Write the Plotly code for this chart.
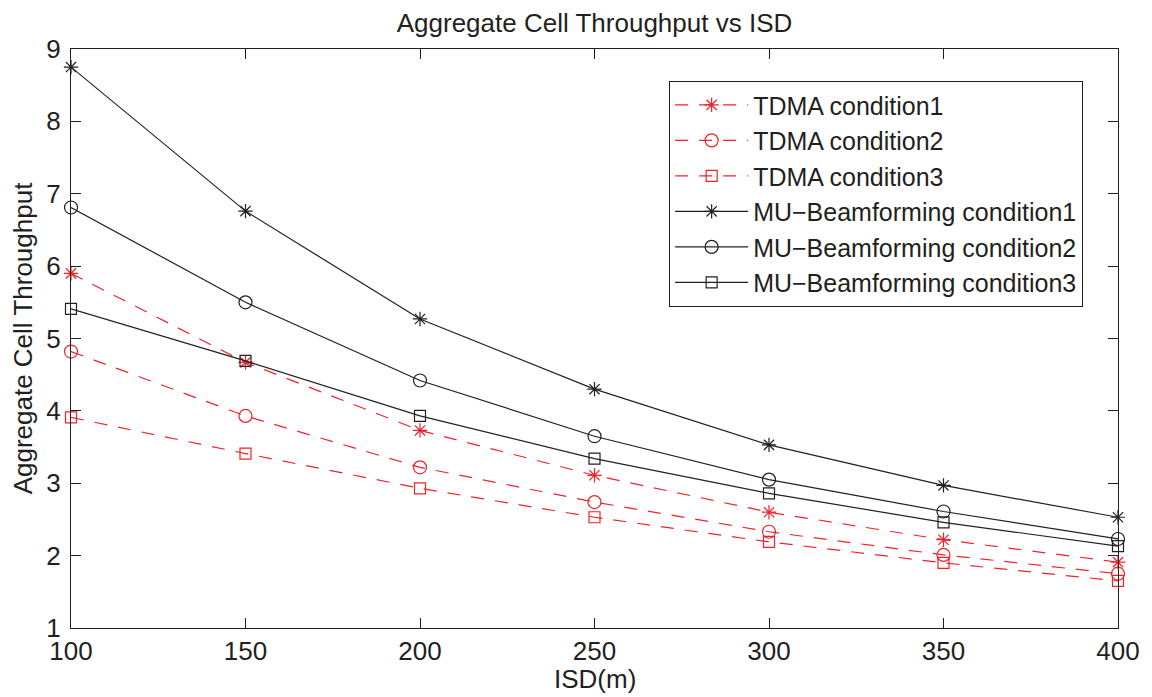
import plotly.graph_objects as go

isd = [100, 150, 200, 250, 300, 350, 400]
tdma1 = [5.90, 4.67, 3.73, 3.11, 2.60, 2.22, 1.91]
tdma2 = [4.82, 3.93, 3.22, 2.74, 2.33, 2.01, 1.75]
tdma3 = [3.91, 3.41, 2.93, 2.53, 2.19, 1.90, 1.65]
mu1 = [8.75, 6.76, 5.27, 4.30, 3.53, 2.97, 2.53]
mu2 = [6.81, 5.50, 4.42, 3.65, 3.05, 2.61, 2.23]
mu3 = [5.41, 4.69, 3.93, 3.34, 2.86, 2.46, 2.13]

names = ["TDMA condition1", "TDMA condition2", "TDMA condition3",
         "MU\u2212Beamforming condition1", "MU\u2212Beamforming condition2", "MU\u2212Beamforming condition3"]
series = [tdma1, tdma2, tdma3, mu1, mu2, mu3]
symbols = ["asterisk-open", "circle-open", "square-open"] * 2
sizes = [12, 13, 11] * 2
colors = ["#ee2229"] * 3 + ["#231f20"] * 3
dashes = ["13px,11px"] * 3 + ["solid"] * 3

fig = go.Figure()
for name, ys, sym, sz, col, d in zip(names, series, symbols, sizes, colors, dashes):
    fig.add_trace(go.Scatter(
        x=isd, y=ys, name=name, mode="lines+markers",
        line=dict(color=col, width=1.2, dash=d),
        marker=dict(symbol=sym, size=sz, color=col, line=dict(color=col, width=1.2)),
        cliponaxis=False,
    ))

font = "Liberation Sans, Arial, Helvetica, sans-serif"
FS = 26
axis_common = dict(
    showline=True, mirror="allticks", linecolor="#231f20", linewidth=1.3,
    ticks="inside", ticklen=10, tickcolor="#231f20", tickwidth=1,
    showgrid=False, zeroline=False,
    tickfont=dict(family=font, size=FS, color="#231f20"),
)
# page body has an 8px margin, so the figure is sized/offset to compensate
fig.update_layout(
    width=1144, height=689,
    margin=dict(l=58, r=30, t=41, b=69),
    paper_bgcolor="white", plot_bgcolor="white",
    title=dict(text="Aggregate Cell Throughput vs ISD", x=0.5, xref="paper", xanchor="center",
               y=1 - 14.5 / 689, yanchor="middle",
               font=dict(family=font, size=FS, color="#231f20")),
    xaxis=dict(range=[100, 400], tickvals=[100, 150, 200, 250, 300, 350, 400],
               **axis_common),
    yaxis=dict(range=[1, 9], tickvals=[1, 2, 3, 4, 5, 6, 7, 8, 9],
               ticklabelstandoff=4,
               title=dict(text="Aggregate Cell Throughput", font=dict(family=font, size=FS, color="#231f20"), standoff=8),
               **axis_common),
    legend=dict(x=0.571, y=0.945, xanchor="left", yanchor="top",
                bgcolor="white", bordercolor="#231f20", borderwidth=1.3,
                font=dict(family=font, size=25, color="#231f20"),
                tracegroupgap=0, itemwidth=73),
    annotations=[dict(text="ISD(m)", x=0.5, y=0, xref="paper", yref="paper",
                      xanchor="center", yanchor="middle", yshift=-51, showarrow=False,
                      font=dict(family=font, size=FS, color="#231f20"))],
    showlegend=True,
)
fig.write_html("out.html")
